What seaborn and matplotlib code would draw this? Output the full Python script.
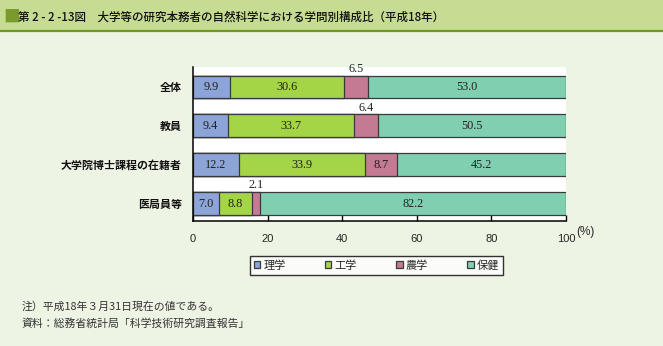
import matplotlib
matplotlib.use("Agg")
import matplotlib.pyplot as plt
from matplotlib.patches import Rectangle
from matplotlib.lines import Line2D
import numpy as np
import pandas as pd
import seaborn as sns

# 学問別構成比（％）
groups = ["全体", "教員", "大学院博士課程の在籍者", "医局員等"]
series_names = ["理学", "工学", "農学", "保健"]
rigaku = [9.9, 9.4, 12.2, 7.0]
kogaku = [30.6, 33.7, 33.9, 8.8]
nogaku = [6.5, 6.4, 8.7, 2.1]
hoken = [53.0, 50.5, 45.2, 82.2]
x_ticks = [0, 20, 40, 60, 80, 100]

colors = ["#8CA4D8", "#A3D546", "#C57A93", "#80CFB1"]

sns.set_theme(style="white")
plt.rcParams["font.family"] = ["Noto Sans CJK JP", "DejaVu Sans"]

W, H = 663, 346
fig = plt.figure(figsize=(W / 100, H / 100), dpi=100)
fig.patch.set_facecolor("#EEF4E4")

# タイトル帯
fig.patches.append(Rectangle((0, 1 - 30 / H), 1, 30 / H, transform=fig.transFigure,
                             facecolor="#C6DC92", edgecolor="none", zorder=0))
fig.lines.append(Line2D([0, 1], [1 - 30.5 / H] * 2, transform=fig.transFigure,
                        color="#6E9A1E", linewidth=1.6))
fig.text(3 / W, 1 - 17 / H, "■", color="#7A9A2E", fontsize=12, va="center", ha="left")
fig.text(18 / W, 1 - 17 / H,
         "第 2 - 2 -13図　大学等の研究本務者の自然科学における学問別構成比（平成18年）",
         fontsize=8.3, va="center", ha="left", color="#111111", fontweight="medium")

left, right, top, bottom = 193, 566, 67, 221
ax = fig.add_axes([left / W, 1 - bottom / H, (right - left) / W, (bottom - top) / H])
ax.set_facecolor("white")

values = np.array([rigaku, kogaku, nogaku, hoken])
cum = values.cumsum(axis=0)
starts = cum - values

df = pd.DataFrame({"group": groups})
bar_w = 0.59
# 累積値を大きい方から重ねて積み上げ棒を描く
for i in reversed(range(len(series_names))):
    df["end"] = cum[i]
    sns.barplot(data=df, x="end", y="group", order=groups, color=colors[i],
                label=series_names[i], width=bar_w, edgecolor="#3a3a3a",
                linewidth=0.9, errorbar=None, saturation=1, ax=ax, orient="h")

num_font = dict(family="Liberation Serif", fontsize=8.8, color="#222222")
for i in range(len(series_names)):
    for j in range(len(groups)):
        v = values[i, j]
        xc = starts[i, j] + v / 2
        if v < 7.0:
            ax.text(xc, j - bar_w / 2 - 0.17, f"{v:.1f}", ha="center", va="center", **num_font)
        else:
            ax.text(xc, j, f"{v:.1f}", ha="center", va="center", **num_font)

ax.set_xlim(0, 100)
ax.set_ylim(3.45, -0.515)
ax.set_xticks(x_ticks)
ax.set_xticklabels([str(t) for t in x_ticks], family="Liberation Sans", fontsize=8)
ax.tick_params(axis="x", direction="in", length=4, width=1, color="black", pad=9,
               bottom=True)
ax.tick_params(axis="y", length=0, pad=8)
for lab in ax.get_yticklabels():
    lab.set_fontweight("bold")
    lab.set_fontsize(7.9)
    lab.set_color("#111111")
ax.set_xlabel("")
ax.set_ylabel("")
for s in ["top", "right"]:
    ax.spines[s].set_visible(False)
for s in ["left", "bottom"]:
    ax.spines[s].set_color("black")
    ax.spines[s].set_linewidth(1.1)

fig.text(585 / W, 1 - 232 / H, "(%)", family="Liberation Sans", fontsize=8.5,
         ha="center", va="center")

handles, labels = ax.get_legend_handles_labels()
order = [labels.index(n) for n in series_names]
if ax.get_legend() is not None:
    ax.get_legend().remove()
leg = fig.legend([handles[k] for k in order], [labels[k] for k in order],
                 loc="center", bbox_to_anchor=(376.5 / W, 1 - 265.5 / H), ncol=4,
                 frameon=True, fancybox=False, fontsize=8, handlelength=0.6,
                 handleheight=0.6, handletextpad=0.3, columnspacing=3.5,
                 borderpad=0.35, borderaxespad=0)
leg.get_frame().set_edgecolor("black")
leg.get_frame().set_linewidth(1.0)
leg.get_frame().set_facecolor("white")

note_kw = dict(fontsize=7.8, color="#333333", ha="left", va="center")
fig.text(22 / W, 1 - 306 / H, "注）平成18年３月31日現在の値である。", **note_kw)
fig.text(22 / W, 1 - 324 / H, "資料：総務省統計局「科学技術研究調査報告」", **note_kw)

fig.savefig("out.png", dpi=100, facecolor=fig.get_facecolor())
